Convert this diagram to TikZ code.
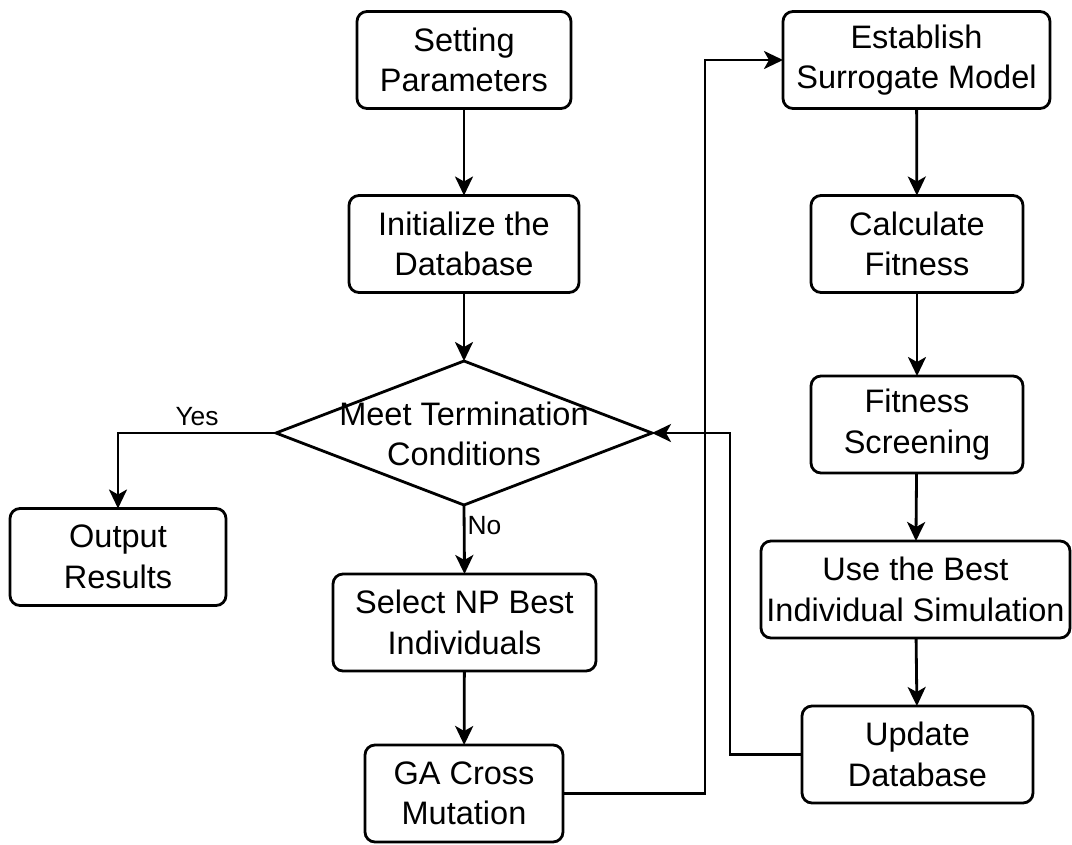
\documentclass[tikz,border=0pt]{standalone}
\usepackage{fontspec}
\setmainfont{Liberation Sans}
\usepackage{tikz}
\usetikzlibrary{arrows.meta}
\usetikzlibrary{shapes.geometric}

\begin{document}
\begin{tikzpicture}[outer sep = 0pt,inner sep = 2pt]

	\tikzstyle{every node}=[font=\fontsize{18.5}{23}\selectfont]

	\tikzset{stepbox/.style={align=center,shape=rectangle,rounded corners=2mm,
		draw,line width=1.6pt,minimum height=19.4mm}}

	\tikzset{decision/.style={shape=diamond,draw,line width=1.6pt,inner sep=0pt,
		minimum width=75.2mm,minimum height=28.8mm}}

	\tikzset{flow/.style={line width=1.6pt,-{Stealth[length=3.8mm,width=3.6mm,inset=1mm]}}}

	\tikzset{answer/.style={font=\fontsize{15}{17}\selectfont}}

	\useasboundingbox (0,0) rectangle (21.44,-16.88);

	% Left column, top to bottom.
	\node (setpar) at (9.28,-1.2) [stepbox,minimum width=42.8mm] {Setting\\Parameters};
	\node (initdb) at (9.28,-4.88) [stepbox,minimum width=46mm] {Initialize the\\Database};
	\node (meet) at (9.28,-8.66) [decision] {};
	\node (meettext) at (9.28,-8.68) [align=center] {Meet Termination\\Conditions};
	\node (outres) at (2.36,-11.14) [stepbox,minimum width=43.2mm] {Output\\Results};
	\node (selnp) at (9.29,-12.45) [stepbox,minimum width=52.6mm] {Select NP Best\\Individuals};
	\node (gacross) at (9.28,-15.87) [stepbox,minimum width=39.6mm] {GA Cross\\Mutation};

	% Right column, top to bottom.
	\node (estab) at (18.33,-1.2) [stepbox,minimum width=53.4mm] {Establish\\Surrogate Model};
	\node (calcfit) at (18.34,-4.88) [stepbox,minimum width=42.4mm] {Calculate\\Fitness};
	\node (fitscr) at (18.34,-8.49) [stepbox,minimum width=42.4mm] {Fitness\\Screening};
	\node (usebest) at (18.31,-11.79) [stepbox,minimum width=61.8mm,inner sep=1pt] {Use the Best\\Individual Simulation};
	\node (upddb) at (18.35,-15.09) [stepbox,minimum width=46.2mm] {Update\\Database};

	% Bends of the two long connectors.
	\coordinate (upbend) at (14.1,-8);
	\coordinate (backbend) at (14.6,-12);

	% Left column arrows.
	\draw [flow] (setpar) -- (initdb);
	\draw [flow] (initdb) -- (meet.north);
	\draw [flow] (meet.west) -| node [above=2pt,pos=0.25,answer] {Yes} (outres.north);
	\draw [flow] (meet.south) -- node [right,pos=0.3,answer] {No} (selnp.north);
	\draw [flow] (selnp) -- (gacross);

	% Over to the right column and back.
	\draw [flow] (gacross.east) -| (upbend) |- (estab.west);
	\draw [flow] (estab) -- (calcfit);
	\draw [flow] (calcfit) -- (fitscr);
	\draw [flow] (fitscr) -- (usebest);
	\draw [flow] (usebest) -- (upddb);
	\draw [flow] (upddb.west) -| (backbend) |- (meet.east);
\end{tikzpicture}
\end{document}
